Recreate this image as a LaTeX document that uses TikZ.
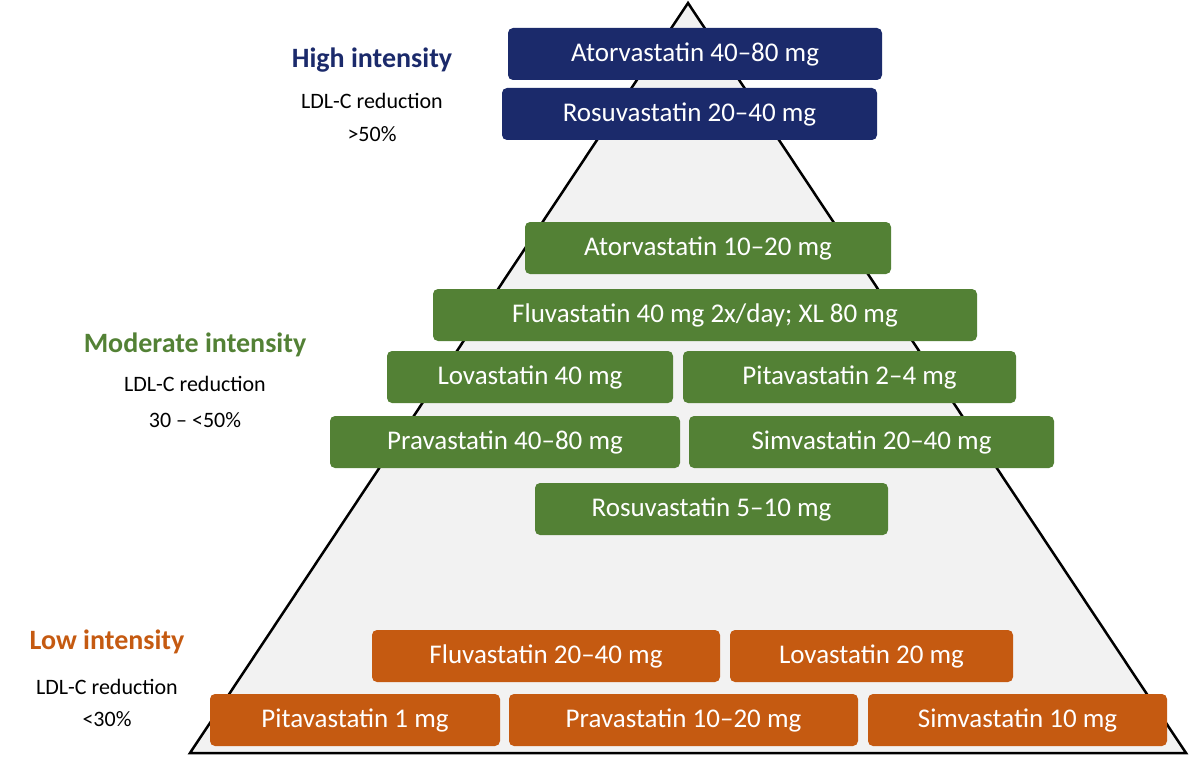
\documentclass[tikz,border=0pt]{standalone}
\usepackage{fontspec}
\setmainfont{Carlito}
\definecolor{navy}{HTML}{1B2A6B}
\definecolor{grn}{HTML}{538135}
\definecolor{org}{HTML}{C55A11}
\begin{document}
\begin{tikzpicture}[x=1pt,y=-1pt,
 bx/.style={rounded corners=4pt,text=white,font=\fontsize{27}{30}\selectfont,inner sep=0pt},
 hd/.style={font=\fontsize{28}{32}\selectfont\bfseries},
 sb/.style={font=\fontsize{22}{26}\selectfont}]
\useasboundingbox (0,0) rectangle (1200,757);
\draw[line width=2.5pt,fill={rgb,255:red,242;green,242;blue,242},line join=miter] (688,3) coordinate (apex) -- (1186,753) -- (190,753) -- cycle;
\newcommand{\bxx}[7]{\fill[#1,rounded corners=5pt] (#2,#3) rectangle (#4,#5); \node[bx] (#6) at ({(#2+#4)/2},{(#3+#5)/2}) {#7};}
\bxx{navy}{508}{28}{882}{80}{a1}{Atorvastatin 40–80 mg}
\bxx{navy}{502}{88}{877}{140}{a2}{Rosuvastatin 20–40 mg}
\bxx{grn}{525}{222}{891}{274}{b1}{Atorvastatin 10–20 mg}
\bxx{grn}{433}{289}{977}{341}{b2}{Fluvastatin 40 mg 2x/day; XL 80 mg}
\bxx{grn}{387}{351}{673}{403}{b3}{Lovastatin 40 mg}
\bxx{grn}{683}{351}{1016}{403}{b4}{Pitavastatin 2–4 mg}
\bxx{grn}{330}{416}{680}{468}{b5}{Pravastatin 40–80 mg}
\bxx{grn}{689}{416}{1054}{468}{b6}{Simvastatin 20–40 mg}
\bxx{grn}{535}{483}{888}{535}{b7}{Rosuvastatin 5–10 mg}
\bxx{org}{372}{630}{720}{682}{c1}{Fluvastatin 20–40 mg}
\bxx{org}{730}{630}{1013}{682}{c2}{Lovastatin 20 mg}
\bxx{org}{210}{694}{500}{746}{c3}{Pitavastatin 1 mg}
\bxx{org}{509}{694}{858}{746}{c4}{Pravastatin 10–20 mg}
\bxx{org}{868}{694}{1167}{746}{c5}{Simvastatin 10 mg}
\node[hd,text=navy] (h1) at (372,60) {High intensity};
\node[sb] (h2) at (372,101) {LDL-C reduction};
\node[sb] (h3) at (372,134) {>50\%};
\node[hd,text=grn] (m1) at (195,345) {Moderate intensity};
\node[sb] (m2) at (195,384) {LDL-C reduction};
\node[sb] (m3) at (195,420) {30 – <50\%};
\node[hd,text=org] (l1) at (107,642) {Low intensity};
\node[sb] (l2) at (107,687) {LDL-C reduction};
\node[sb] (l3) at (107,719) {<30\%};
\end{tikzpicture}
\end{document}
